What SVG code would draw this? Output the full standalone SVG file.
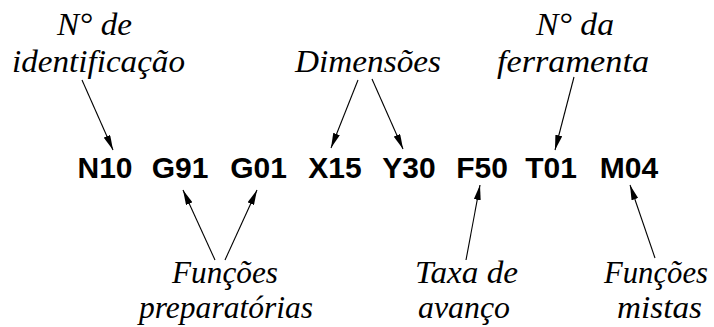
<svg xmlns="http://www.w3.org/2000/svg" width="714" height="327" viewBox="0 0 714 327">
<style>
.code{font-family:"Liberation Sans",Arial,sans-serif;font-weight:bold;font-size:30px;fill:#000;text-anchor:middle}
.lbl{font-family:"Liberation Serif","Times New Roman",serif;font-style:italic;font-size:31px;fill:#000}
.conn line{stroke:#000;stroke-width:1.1;fill:none;marker-end:url(#ah)}
</style>
<defs>
<marker id="ah" viewBox="0 0 15 7" refX="15" refY="3.5" markerWidth="15" markerHeight="7" markerUnits="userSpaceOnUse" orient="auto">
<path d="M0,0 L15,3.5 L0,7 Z" fill="#000"/>
</marker>
</defs>
<rect width="714" height="327" fill="#fff"/>
<g id="codes">
<g id="n10"><text class="code" x="105" y="178">N10</text></g>
<g id="g91"><text class="code" x="180" y="178">G91</text></g>
<g id="g01"><text class="code" x="258.5" y="178">G01</text></g>
<g id="x15"><text class="code" x="335" y="178">X15</text></g>
<g id="y30"><text class="code" x="409" y="178">Y30</text></g>
<g id="f50"><text class="code" x="482" y="178">F50</text></g>
<g id="t01"><text class="code" x="551" y="178">T01</text></g>
<g id="m04"><text class="code" x="629" y="178">M04</text></g>
</g>
<g id="lbl-ident"><text class="lbl" x="57" y="35" textLength="75" lengthAdjust="spacingAndGlyphs">N° de</text><text class="lbl" x="12" y="72" textLength="173" lengthAdjust="spacingAndGlyphs">identificação</text></g>
<g id="lbl-dim"><text class="lbl" x="295" y="72" textLength="146" lengthAdjust="spacingAndGlyphs">Dimensões</text></g>
<g id="lbl-ferr"><text class="lbl" x="536" y="35" textLength="78" lengthAdjust="spacingAndGlyphs">N° da</text><text class="lbl" x="497" y="72" textLength="152" lengthAdjust="spacingAndGlyphs">ferramenta</text></g>
<g id="lbl-prep"><text class="lbl" x="172" y="283" textLength="106" lengthAdjust="spacingAndGlyphs">Funções</text><text class="lbl" x="139" y="318" textLength="174" lengthAdjust="spacingAndGlyphs">preparatórias</text></g>
<g id="lbl-taxa"><text class="lbl" x="415" y="283" textLength="103" lengthAdjust="spacingAndGlyphs">Taxa de</text><text class="lbl" x="418" y="318" textLength="92" lengthAdjust="spacingAndGlyphs">avanço</text></g>
<g id="lbl-mist"><text class="lbl" x="604" y="283" textLength="104" lengthAdjust="spacingAndGlyphs">Funções</text><text class="lbl" x="617" y="318" textLength="85" lengthAdjust="spacingAndGlyphs">mistas</text></g>
<g id="connectors" class="conn">
<line x1="82" y1="80" x2="113" y2="150"/>
<line x1="358" y1="80" x2="331" y2="148"/>
<line x1="372" y1="79" x2="403" y2="149"/>
<line x1="574" y1="77" x2="555" y2="150"/>
<line x1="215" y1="260" x2="183" y2="190"/>
<line x1="225" y1="260" x2="257" y2="190"/>
<line x1="466" y1="260" x2="480" y2="185"/>
<line x1="655" y1="258" x2="630" y2="185"/>
</g>
</svg>
